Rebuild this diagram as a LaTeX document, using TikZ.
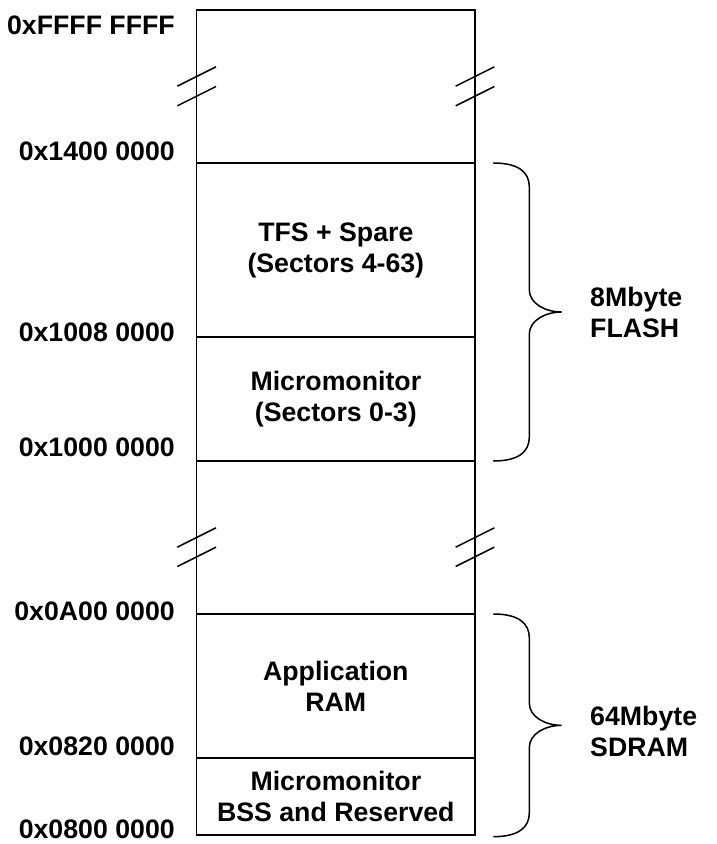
\documentclass[tikz,border=0pt]{standalone}
\usepackage{fontspec}
\setmainfont{Liberation Sans}
\usetikzlibrary{positioning, calc}
\newcommand{\memfont}{\fontsize{22.8}{26.5}\selectfont\bfseries}
\tikzset{
    region/.style={
        rectangle,
        draw=black,
        line width=1.4pt,
        minimum width=8.35cm,
        outer sep=0pt,
        inner sep=0pt,
        align=center,
        font=\memfont
    },
    addr/.style={anchor=base east, inner sep=0pt, font=\memfont},
    sizelabel/.style={anchor=west, inner sep=0pt, align=left, font=\memfont},
    breakmark/.style={draw=black, line width=1.3pt},
    bracestyle/.style={draw=black, line width=1.3pt}
}
% #1 top end, #2 bottom end, #3 middle of the range
\newcommand{\membrace}[3]{%
    \draw[bracestyle] (#1) .. controls +(0.75,0) and +(0,0.45) .. ($(#1)+(1.08,-0.72)$)
        -- ($(#3)+(1.08,0.66)$) .. controls +(0,-0.4) and +(-0.5,0) .. ($(#3)+(2.05,0)$)
        .. controls +(-0.5,0) and +(0,0.4) .. ($(#3)+(1.08,-0.66)$)
        -- ($(#2)+(1.08,0.72)$) .. controls +(0,-0.45) and +(0.75,0) .. (#2);
}
\begin{document}
\begin{tikzpicture}
    \useasboundingbox (0,0) rectangle (21.48,-25.32);
    % memory regions, top to bottom
    \node[region, minimum height=4.59cm, anchor=north west] (spacetop) at (5.90,-0.30) {};
    \node[region, minimum height=5.22cm, below=0pt of spacetop] (tfs) {TFS + Spare\\(Sectors 4-63)};
    \node[region, minimum height=3.72cm, below=0pt of tfs] (mmon) {Micromonitor\\(Sectors 0-3)};
    \node[region, minimum height=4.59cm, below=0pt of mmon] (spacemid) {};
    \node[region, minimum height=4.32cm, below=0pt of spacemid] (appram) {Application\\RAM};
    \node[region, minimum height=2.31cm, below=0pt of appram] (bss) {Micromonitor\\BSS and Reserved};
    % breaks in the address space
    \foreach \side in {west, east}{
        \foreach \dy in {0.3, -0.29}
            \draw[breakmark] ($(spacetop.\side)+(0,\dy)$) +(-0.58,-0.29) -- +(0.58,0.29);
        \foreach \dy in {0, -0.58}
            \draw[breakmark] ($(spacemid.\side)+(0,\dy)$) +(-0.58,-0.29) -- +(0.58,0.29);
    }
    % addresses
    \node[addr] (aFFFF) at ($(spacetop.north west)+(-0.65,-0.75)$) {0xFFFF FFFF};
    \node[addr] (a1400) at ($(tfs.north west)+(-0.65,0.09)$) {0x1400 0000};
    \node[addr] (a1008) at ($(mmon.north west)+(-0.65,-0.12)$) {0x1008 0000};
    \node[addr] (a1000) at ($(mmon.south west)+(-0.65,0.15)$) {0x1000 0000};
    \node[addr] (a0A00) at ($(appram.north west)+(-0.65,-0.18)$) {0x0A00 0000};
    \node[addr] (a0820) at ($(bss.north west)+(-0.65,0.09)$) {0x0820 0000};
    \node[addr] (a0800) at ($(bss.south west)+(-0.65,-0.09)$) {0x0800 0000};
    % device ranges
    \coordinate (flashtop) at ($(tfs.north east)+(0.55,0)$);
    \coordinate (flashbot) at ($(mmon.south east)+(0.55,0)$);
    \coordinate (flashmid) at ($(flashtop)!0.5!(flashbot)$);
    \membrace{flashtop}{flashbot}{flashmid}
    \node[sizelabel, right=2.9cm of flashmid] (flash) {8Mbyte\\FLASH};
    \coordinate (sdramtop) at ($(appram.north east)+(0.55,0)$);
    \coordinate (sdrambot) at ($(bss.south east)+(0.55,-0.05)$);
    \coordinate (sdrammid) at ($(sdramtop)!0.5!(sdrambot)$);
    \membrace{sdramtop}{sdrambot}{sdrammid}
    \node[sizelabel, right=2.9cm of sdrammid, yshift=-0.18cm] (sdram) {64Mbyte\\SDRAM};
\end{tikzpicture}
\end{document}
